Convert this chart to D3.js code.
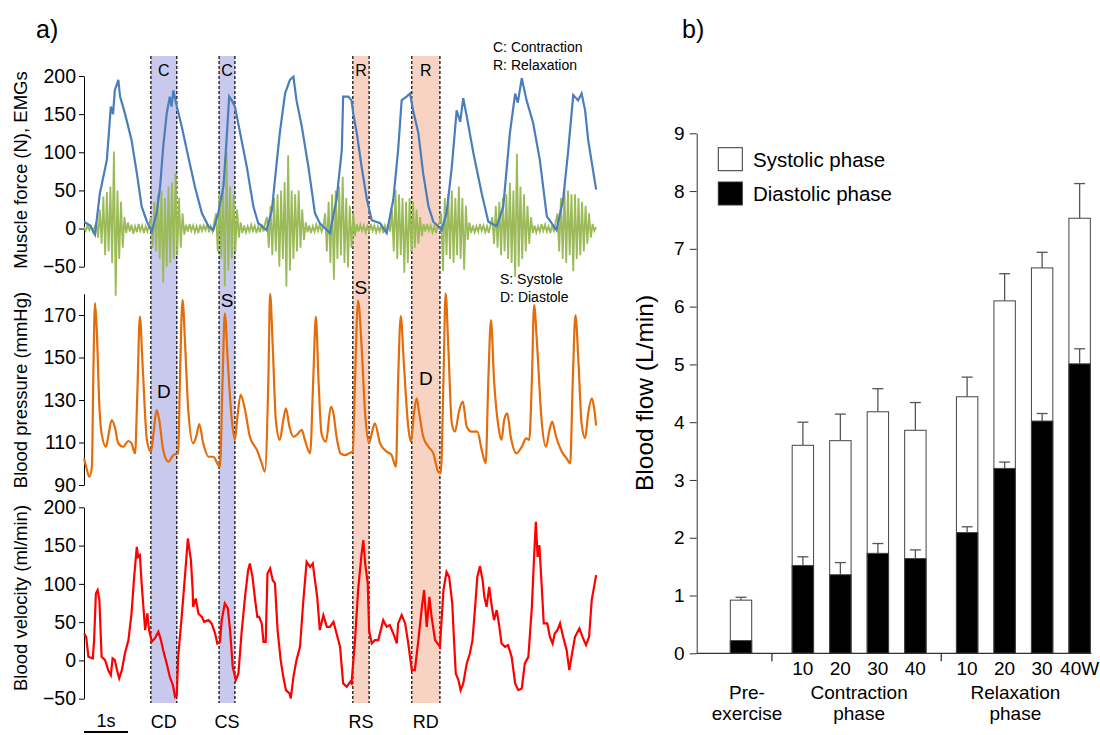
<!DOCTYPE html>
<html>
<head>
<meta charset="utf-8">
<script src="https://cdn.jsdelivr.net/npm/d3@7"></script>
<style>
  body { margin: 0; background: #fff; }
  svg { display: block; font-family: "Liberation Sans", Arial, sans-serif; }
</style>
</head>
<body>
<svg id="chart" width="1100" height="735"></svg>
<script>
// ---------- panel a: traces, [time (s), value] ----------
var force = [[0,9],[0.14,4],[0.25,-8],[0.36,46],[0.52,90],[0.61,160],[0.66,150],[0.70,181],[0.78,195],[0.82,173],[0.93,151],[1.08,116],[1.20,73],[1.31,29],[1.43,9],[1.54,-4],[1.65,20],[1.73,55],[1.80,107],[1.88,151],[1.95,173],[1.99,160],[2.03,181],[2.11,160],[2.22,134],[2.37,94],[2.52,55],[2.68,20],[2.83,3],[2.94,-2],[3.05,20],[3.17,55],[3.24,116],[3.30,173],[3.36,168],[3.43,160],[3.55,125],[3.70,81],[3.85,29],[3.96,7],[4.15,-2],[4.27,24],[4.34,64],[4.45,125],[4.57,177],[4.68,195],[4.76,199],[4.83,168],[4.95,134],[5.10,81],[5.25,20],[5.36,7],[5.59,-6],[5.74,38],[5.86,103],[5.89,173],[6.01,173],[6.08,168],[6.12,151],[6.20,125],[6.31,81],[6.43,38],[6.54,11],[6.73,7],[6.88,-6],[7.03,38],[7.14,103],[7.22,168],[7.33,173],[7.41,177],[7.48,155],[7.60,125],[7.71,72],[7.83,29],[7.94,9],[8.13,-2],[8.24,20],[8.36,81],[8.47,155],[8.55,140],[8.62,171],[8.70,147],[8.85,99],[9.04,46],[9.19,9],[9.38,3],[9.53,29],[9.68,125],[9.80,177],[9.86,165],[9.95,197],[10.06,168],[10.21,138],[10.36,90],[10.52,16],[10.74,-2],[10.89,38],[11.00,99],[11.12,175],[11.23,168],[11.31,177],[11.39,155],[11.46,116],[11.64,51]];

// EMG, one sample every emgStep seconds
var emgStep = 0.04;
var emg = [2,-3,4,-2,3,-4,2,
  8,-12,25,-20,42,-35,48,-30,55,-45,101,-88,50,-40,35,-25,15,
  -6,8,-4,5,-7,3,-5,6,-3,4,-6,3,-4,5,
  15,-25,35,-30,45,-40,50,-71,40,-50,55,-45,60,-40,73,-35,40,-25,20,
  -8,5,-4,6,-3,4,-5,3,-6,5,-3,4,-2,6,-5,3,-4,8,
  20,-30,45,-40,60,-76,100,-55,55,-40,45,-30,25,-12,
  8,-6,4,-5,3,-4,5,-3,4,-6,3,-5,6,-4,8,
  15,-25,30,-35,40,-30,45,-50,50,-40,61,-76,96,-55,50,-40,45,-30,50,-25,25,-15,
  8,-5,4,-6,3,-4,5,-3,6,-4,3,
  20,-30,35,-45,45,-67,50,-40,55,-35,68,-45,40,-51,30,-25,20,-10,6,
  -4,5,-3,4,-5,3,-4,6,-3,4,-5,3,-4,5,-6,4,-3,6,-4,
  25,-30,51,-40,45,-35,40,-58,35,-45,40,-30,35,-25,25,-20,15,-10,6,
  -4,6,-3,4,-5,3,-6,4,8,
  20,-56,40,-35,45,-40,50,-45,40,-35,55,-40,40,-54,30,-15,
  8,-6,4,-5,3,-4,6,-3,4,-5,3,-6,5,
  15,-20,30,-25,35,-35,40,-30,45,-40,60,-45,50,-63,98,-50,55,-40,45,-30,30,-20,15,
  -6,4,-5,3,-4,6,-3,5,-4,3,-6,4,-3,8,
  20,-30,40,-40,53,-45,50,-35,45,-56,45,-40,40,-35,35,-30,30,-20,20,-12,
  6,-3,2];

var pressure = [[0,102.5],[0.05,98.6],[0.12,93.9],[0.18,98.6],[0.21,139],[0.25,175.6],[0.29,162.9],[0.35,126.8],[0.40,114.3],[0.50,108],[0.55,112.7],[0.63,120.6],[0.70,117.4],[0.78,109.6],[0.89,108],[1.01,110.7],[1.08,109.6],[1.16,104.9],[1.21,131.5],[1.27,169.2],[1.33,147.3],[1.43,111.2],[1.52,105.7],[1.58,114.3],[1.65,125.3],[1.71,120.6],[1.80,106.5],[1.92,101],[2.03,104.1],[2.14,104.9],[2.18,139.4],[2.24,177.1],[2.30,155.2],[2.37,125.3],[2.48,109.6],[2.55,112.7],[2.62,118.7],[2.71,109.6],[2.83,103.3],[2.94,103.3],[3.05,99.4],[3.09,98.6],[3.15,139.4],[3.20,170.8],[3.27,147.3],[3.36,120.6],[3.43,111.2],[3.48,120.6],[3.56,132.4],[3.66,125.3],[3.77,112.7],[3.93,106.5],[4.04,100.2],[4.11,96.3],[4.19,139.4],[4.23,179.9],[4.29,155.2],[4.36,120.6],[4.45,111.2],[4.53,120.6],[4.59,126.1],[4.67,117.4],[4.76,112.7],[4.87,114.3],[4.95,115.9],[5.02,111.2],[5.14,104.9],[5.21,139.4],[5.27,169.2],[5.33,139.4],[5.40,114],[5.50,110.4],[5.61,126.8],[5.67,123.7],[5.74,112.7],[5.83,104.9],[5.93,104.1],[6.05,105.2],[6.11,105.7],[6.16,139.4],[6.23,176.8],[6.31,155.2],[6.39,123.7],[6.48,109.6],[6.54,114.3],[6.61,119],[6.73,109.6],[6.88,105.7],[6.99,104.1],[7.09,98.6],[7.14,139.4],[7.20,169.5],[7.27,147.3],[7.37,117.4],[7.43,110.4],[7.50,123.7],[7.56,130.8],[7.62,123.7],[7.71,112.7],[7.83,108],[7.94,104.9],[8.05,96.3],[8.11,95.5],[8.17,139.4],[8.22,180.2],[8.28,155.2],[8.36,119],[8.43,115.1],[8.53,125.3],[8.61,129.2],[8.70,117.4],[8.81,115.1],[8.94,115.1],[9.04,106.5],[9.13,100.2],[9.19,139.4],[9.25,167.6],[9.32,139.4],[9.42,117.4],[9.49,111.2],[9.55,120.6],[9.62,123.7],[9.70,112.7],[9.83,104.9],[9.95,108],[10.05,111.9],[10.12,111.2],[10.18,139.4],[10.23,174.7],[10.30,155.2],[10.40,120.6],[10.50,108],[10.58,115.9],[10.64,119.8],[10.73,112.7],[10.86,105.7],[10.97,102.5],[11.05,100.2],[11.11,139.4],[11.17,170],[11.24,147.3],[11.31,119],[11.39,112],[11.46,123.7],[11.54,130.8],[11.59,126.8],[11.64,118]];

var velocity = [[0,35.2],[0.05,30.8],[0.10,4.7],[0.20,2.6],[0.23,26.5],[0.27,87.5],[0.31,91.8],[0.35,78.7],[0.40,4.7],[0.48,0.4],[0.55,-12.7],[0.61,-19.2],[0.65,2.6],[0.70,0.4],[0.76,-14.9],[0.80,-23.5],[0.86,-12.7],[0.93,9.1],[1.01,26.5],[1.08,61.4],[1.14,109.1],[1.20,148.3],[1.23,135.3],[1.27,137.5],[1.31,100.5],[1.35,70],[1.39,39.6],[1.44,61.4],[1.48,39.6],[1.54,24.3],[1.61,28.7],[1.69,37.3],[1.74,28.7],[1.80,13.4],[1.88,-3.9],[1.95,-21.4],[2.02,-32.2],[2.07,-47.5],[2.11,-45.3],[2.14,4.7],[2.22,56.9],[2.30,113.6],[2.36,159.3],[2.43,131],[2.47,91.8],[2.48,70],[2.54,80.9],[2.60,61.4],[2.68,56.9],[2.73,50.4],[2.83,52.6],[2.90,48.3],[2.98,35.2],[3.03,22.2],[3.09,24.3],[3.13,52.6],[3.20,74.4],[3.27,67.9],[3.32,39.6],[3.38,-8.4],[3.45,-25.7],[3.51,-17],[3.58,35.2],[3.66,83],[3.73,117.9],[3.77,126.6],[3.83,109.1],[3.89,78.7],[3.94,56.9],[3.98,56.9],[4.04,48.3],[4.08,24.3],[4.13,24.3],[4.17,113.6],[4.23,120.1],[4.29,104.8],[4.34,100.5],[4.40,39.6],[4.47,0.4],[4.53,-21.4],[4.59,-38.8],[4.67,-43.1],[4.70,-49.6],[4.76,-21.4],[4.83,0.4],[4.91,17.8],[4.98,74.4],[5.06,128.7],[5.14,122.2],[5.20,126.6],[5.25,104.8],[5.30,83],[5.36,39.6],[5.44,59.1],[5.52,43.9],[5.59,43.9],[5.67,50.4],[5.74,35.2],[5.82,17.8],[5.89,-30],[5.97,-34.5],[6.05,-27.9],[6.08,-30],[6.16,26.5],[6.23,91.8],[6.31,139.7],[6.35,157],[6.39,126.6],[6.45,100.5],[6.48,39.6],[6.54,22.2],[6.61,26.5],[6.69,26.5],[6.80,52.6],[6.88,43.9],[6.95,46.1],[7.03,35.2],[7.11,22.2],[7.14,48.3],[7.22,59.1],[7.30,48.3],[7.37,22.2],[7.45,-12.7],[7.52,-12.7],[7.60,26.5],[7.68,70],[7.73,91.8],[7.79,43.9],[7.85,83],[7.90,56.9],[7.98,26.5],[8.09,17.8],[8.17,91.8],[8.24,115.7],[8.30,109.1],[8.37,74.4],[8.41,26.5],[8.45,-17],[8.51,-25.7],[8.56,-38.8],[8.62,-30],[8.70,-3.9],[8.77,9.1],[8.83,26.5],[8.89,70],[8.94,109.1],[9.00,123.1],[9.06,104.8],[9.10,83],[9.15,70],[9.21,96.1],[9.27,70],[9.32,52.6],[9.38,65.7],[9.43,48.3],[9.49,22.2],[9.57,17.8],[9.64,20],[9.72,4.7],[9.80,-30],[9.87,-38.8],[9.95,-36.6],[10.02,-3.9],[10.10,4.7],[10.18,70],[10.23,135.3],[10.27,181],[10.31,135.3],[10.35,150.5],[10.40,100.5],[10.45,48.3],[10.53,48.3],[10.59,30.8],[10.65,22.2],[10.70,35.2],[10.76,39.6],[10.82,48.3],[10.89,30.8],[10.97,13.4],[11.03,-12.7],[11.08,4.7],[11.16,30.8],[11.26,41.8],[11.33,30.8],[11.41,20],[11.48,30.8],[11.54,78.7],[11.58,91.8],[11.64,111.4]];

// shaded phases (s)
var phases = [
  {name: "CD", top: "C", kind: "contraction", t0: 1.52, t1: 2.11},
  {name: "CS", top: "C", kind: "contraction", t0: 3.07, t1: 3.43},
  {name: "RS", top: "R", kind: "relaxation", t0: 6.11, t1: 6.48},
  {name: "RD", top: "R", kind: "relaxation", t0: 7.45, t1: 8.09}
];

var forceTicks = [-50, 0, 50, 100, 150, 200];
var pressureTicks = [90, 110, 130, 150, 170];
var velocityTicks = [-50, 0, 50, 100, 150, 200];

// ---------- panel b: blood flow (L/min) ----------
var loads = ["", "10", "20", "30", "40", "10", "20", "30", "40W"];
var groupOf = ["pre", "con", "con", "con", "con", "rel", "rel", "rel", "rel"];
var groupNames = {pre: ["Pre-", "exercise"], con: ["Contraction", "phase"], rel: ["Relaxation", "phase"]};
var totalFlow = [0.92, 3.60, 3.68, 4.18, 3.86, 4.44, 6.10, 6.67, 7.53];
var totalErr = [0.05, 0.40, 0.46, 0.40, 0.48, 0.34, 0.47, 0.27, 0.60];
var diastolicFlow = [0.22, 1.52, 1.36, 1.73, 1.64, 2.09, 3.20, 4.02, 5.01];
var diastolicErr = [0, 0.15, 0.21, 0.17, 0.15, 0.10, 0.11, 0.13, 0.26];
var flowTicks = [0, 1, 2, 3, 4, 5, 6, 7, 8, 9];

var svg = d3.select("#chart");
var FONT = '"Liberation Sans", Arial, sans-serif';

svg.append("rect").attr("width", 1100).attr("height", 735).attr("fill", "#fff");

// ===== panel a =====
var x = d3.scaleLinear().domain([0, 11.66]).range([84, 597]);
var yF = d3.scaleLinear().domain([-50, 200]).range([266.7, 76]);
var yP = d3.scaleLinear().domain([90, 180]).range([485, 293.75]);
var yV = d3.scaleLinear().domain([-50, 200]).range([698.7, 507.3]);

var bandTop = 56, bandBottom = 703;
var bands = svg.append("g");
phases.forEach(function(p) {
  var x0 = x(p.t0), x1 = x(p.t1);
  bands.append("rect")
    .attr("x", x0).attr("y", bandTop)
    .attr("width", x1 - x0).attr("height", bandBottom - bandTop)
    .attr("fill", p.kind === "contraction" ? "#c9c9ee" : "#f8d3c3");
  [x0, x1].forEach(function(xx) {
    bands.append("line")
      .attr("x1", xx).attr("x2", xx).attr("y1", bandTop).attr("y2", bandBottom)
      .attr("stroke", "#000").attr("stroke-width", 1.2)
      .attr("stroke-dasharray", "3,2");
  });
  bands.append("text")
    .attr("x", (x0 + x1) / 2).attr("y", 76)
    .attr("text-anchor", "middle").attr("font-size", 16)
    .text(p.top);
  svg.append("text")
    .attr("x", (x0 + x1) / 2).attr("y", 728)
    .attr("text-anchor", "middle").attr("font-size", 18)
    .text(p.name);
});

function leftAxis(scale, ticks, xPos, size) {
  var g = svg.append("g")
    .attr("transform", "translate(" + xPos + ",0)")
    .call(d3.axisLeft(scale).tickValues(ticks).tickSize(5).tickSizeOuter(0).tickPadding(3));
  g.attr("font-size", size).attr("font-family", FONT).attr("color", "#000");
  return g;
}
leftAxis(yF, forceTicks, 84, 19.5);
leftAxis(yP, pressureTicks, 84, 19.5);
leftAxis(yV, velocityTicks, 84, 19.5);

// traces
var emgLine = d3.line().x(function(d, i) { return x(i * emgStep); }).y(function(d) { return yF(d); });
svg.append("path").datum(emg).attr("d", emgLine)
  .attr("fill", "none").attr("stroke", "#9bbb59").attr("stroke-width", 1.8);

var forceLine = d3.line().x(function(d) { return x(d[0]); }).y(function(d) { return yF(d[1]); });
svg.append("path").datum(force).attr("d", forceLine)
  .attr("fill", "none").attr("stroke", "#4a7ebb").attr("stroke-width", 2.2);

var pressureLine = d3.line().curve(d3.curveMonotoneX)
  .x(function(d) { return x(d[0]); }).y(function(d) { return yP(d[1]); });
svg.append("path").datum(pressure).attr("d", pressureLine)
  .attr("fill", "none").attr("stroke", "#e46c0a").attr("stroke-width", 2.2);

var velocityLine = d3.line().x(function(d) { return x(d[0]); }).y(function(d) { return yV(d[1]); });
svg.append("path").datum(velocity).attr("d", velocityLine)
  .attr("fill", "none").attr("stroke", "#ff0000").attr("stroke-width", 2.2);

// S / D markers in the pressure panel
var marks = [
  {txt: "S", band: 1, v: 177}, {txt: "S", band: 2, v: 183},
  {txt: "D", band: 0, v: 134}, {txt: "D", band: 3, v: 140}
];
marks.forEach(function(m) {
  var p = phases[m.band];
  svg.append("text")
    .attr("x", (x(p.t0) + x(p.t1)) / 2).attr("y", yP(m.v))
    .attr("dy", "0.35em").attr("text-anchor", "middle").attr("font-size", 19)
    .text(m.txt);
});

// axis titles
function yTitle(txt, cx, cy, size) {
  svg.append("text")
    .attr("transform", "translate(" + cx + "," + cy + ") rotate(-90)")
    .attr("text-anchor", "middle").attr("dy", "0.35em")
    .attr("font-size", size).text(txt);
}
yTitle("Muscle force (N), EMGs", 21, 170, 18.5);
yTitle("Blood pressure (mmHg)", 21, 390, 18.5);
yTitle("Blood velocity (ml/min)", 21, 598, 18.5);

// notes
var notes = [["C: Contraction", 493, 52], ["R: Relaxation", 493, 70], ["S: Systole", 500, 284], ["D: Diastole", 500, 302]];
notes.forEach(function(n) {
  svg.append("text").attr("x", n[1]).attr("y", n[2]).attr("font-size", 14).text(n[0]);
});

// 1 s scale bar
svg.append("line")
  .attr("x1", x(0)).attr("x2", x(1)).attr("y1", 732).attr("y2", 732)
  .attr("stroke", "#000").attr("stroke-width", 2);
svg.append("text").attr("x", (x(0) + x(1)) / 2).attr("y", 727)
  .attr("text-anchor", "middle").attr("font-size", 18).text("1s");

svg.append("text").attr("x", 36).attr("y", 38).attr("font-size", 25).text("a)");
svg.append("text").attr("x", 682).attr("y", 38).attr("font-size", 25).text("b)");

// ===== panel b =====
var groupStart = {pre: 0, con: 1.65, rel: 6.03};
var slot = loads.map(function(d, i) {
  var g = groupOf[i];
  return groupStart[g] + groupOf.slice(0, i).filter(function(k) { return k === g; }).length;
});
var xb = d3.scaleLinear().domain([0, 1]).range([741, 778.5]);
var yb = d3.scaleLinear().domain([0, 9]).range([653.3, 133.3]);
var barW = 21.4;
var axisColor = "#333";

var gb = svg.append("g");
loads.forEach(function(l, i) {
  var cx = xb(slot[i]);
  // total bar (systolic part shows above the diastolic part)
  gb.append("rect")
    .attr("x", cx - barW / 2).attr("y", yb(totalFlow[i]))
    .attr("width", barW).attr("height", yb(0) - yb(totalFlow[i]))
    .attr("fill", "#fff").attr("stroke", "#444").attr("stroke-width", 1);
  gb.append("rect")
    .attr("x", cx - barW / 2).attr("y", yb(diastolicFlow[i]))
    .attr("width", barW).attr("height", yb(0) - yb(diastolicFlow[i]))
    .attr("fill", "#000").attr("stroke", "#444").attr("stroke-width", 1);
  [[totalFlow[i], totalErr[i]], [diastolicFlow[i], diastolicErr[i]]].forEach(function(e) {
    if (!e[1]) return;
    gb.append("line").attr("x1", cx).attr("x2", cx)
      .attr("y1", yb(e[0])).attr("y2", yb(e[0] + e[1]))
      .attr("stroke", "#555").attr("stroke-width", 1.3);
    gb.append("line").attr("x1", cx - 5.5).attr("x2", cx + 5.5)
      .attr("y1", yb(e[0] + e[1])).attr("y2", yb(e[0] + e[1]))
      .attr("stroke", "#555").attr("stroke-width", 1.3);
  });
  gb.append("text").attr("x", cx).attr("y", 675)
    .attr("text-anchor", "middle").attr("font-size", 19).text(l);
});

var axB = svg.append("g").attr("transform", "translate(696.7,0)")
  .call(d3.axisLeft(yb).tickValues(flowTicks).tickSize(7).tickSizeOuter(0).tickPadding(5));
axB.attr("font-size", 19).attr("font-family", FONT).attr("color", "#000");
axB.selectAll("line").attr("stroke", axisColor);
axB.select(".domain").attr("stroke", axisColor);

// baseline and group separators
svg.append("line").attr("x1", 696.7).attr("x2", xb(slot[8]) + barW / 2 + 1)
  .attr("y1", yb(0)).attr("y2", yb(0)).attr("stroke", axisColor).attr("stroke-width", 1.2);
var seps = [(slot[0] + slot[1]) / 2, (slot[4] + slot[5]) / 2];
seps.forEach(function(s) {
  svg.append("line").attr("x1", xb(s)).attr("x2", xb(s))
    .attr("y1", yb(0)).attr("y2", yb(0) + 8).attr("stroke", axisColor).attr("stroke-width", 1.3);
});

// group labels
var labelShift = {pre: 6, con: 0, rel: -8};
["pre", "con", "rel"].forEach(function(g) {
  var idx = groupOf.map(function(k, i) { return k === g ? i : -1; }).filter(function(i) { return i >= 0; });
  var cx = (xb(slot[idx[0]]) + xb(slot[idx[idx.length - 1]])) / 2 + labelShift[g];
  groupNames[g].forEach(function(line, j) {
    svg.append("text").attr("x", cx).attr("y", 699 + j * 21)
      .attr("text-anchor", "middle").attr("font-size", 19).text(line);
  });
});

svg.append("text")
  .attr("transform", "translate(644,393) rotate(-90)")
  .attr("text-anchor", "middle").attr("dy", "0.35em")
  .attr("font-size", 24.5).text("Blood flow (L/min)");

// legend
var legend = [["Systolic phase", "#fff", 147.7], ["Diastolic phase", "#000", 182]];
legend.forEach(function(d) {
  svg.append("rect").attr("x", 718.3).attr("y", d[2]).attr("width", 24).attr("height", 23)
    .attr("fill", d[1]).attr("stroke", "#333").attr("stroke-width", 1);
  svg.append("text").attr("x", 753).attr("y", d[2] + 19).attr("font-size", 20.5).text(d[0]);
});
</script>
</body>
</html>
